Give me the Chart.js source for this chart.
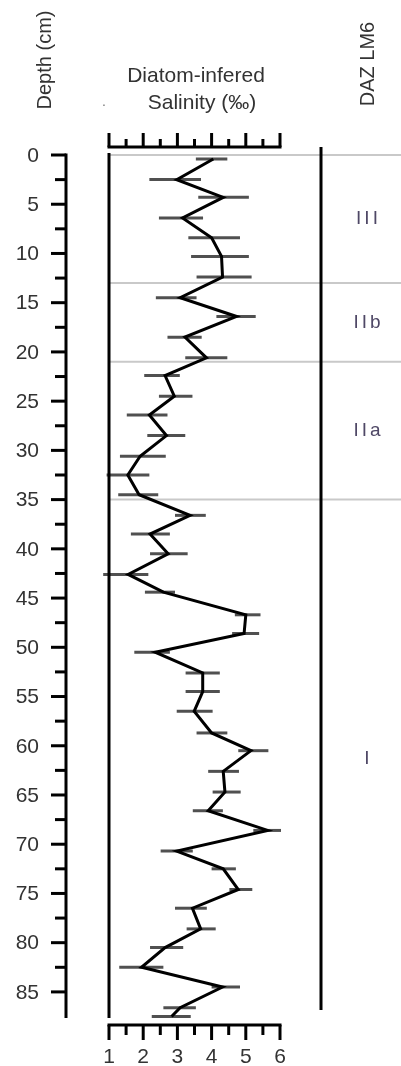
<!DOCTYPE html>
<html>
<head>
<meta charset="utf-8">
<script src="https://cdn.jsdelivr.net/npm/chart.js@4.4.1/dist/chart.umd.min.js"></script>
<style>
    html, body { margin: 0; padding: 0; background: #fff; }
    #wrap { position: relative; width: 401px; height: 1066px; }
</style>
</head>
<body>
<div id="wrap"><canvas id="chart"></canvas></div>
<script>
// sample depths (cm) and diatom-inferred salinity with error range
const depths   = [0.4, 2.5, 4.3, 6.4, 8.4, 10.3, 12.4, 14.5, 16.4, 18.5, 20.6, 22.4, 24.5, 26.4, 28.5, 30.6, 32.5, 34.5, 36.6, 38.5, 40.5, 42.6, 44.4, 46.7, 48.6, 50.5, 52.6, 54.5, 56.5, 58.7, 60.5, 62.6, 64.7, 66.6, 68.6, 70.7, 72.5, 74.6, 76.5, 78.6, 80.5, 82.5, 84.5, 86.6, 87.5];
const salinity = [4.05, 2.98, 4.34, 3.15, 4.0, 4.29, 4.32, 3.08, 4.73, 3.22, 3.85, 2.64, 2.91, 2.18, 2.68, 1.91, 1.55, 1.88, 3.37, 2.2, 2.73, 1.56, 2.59, 5.0, 4.95, 2.35, 3.74, 3.74, 3.49, 4.0, 5.15, 4.34, 4.39, 3.9, 5.64, 2.98, 4.34, 4.78, 3.44, 3.68, 2.64, 1.95, 4.32, 3.08, 2.83];
const errLow   = [3.54, 2.18, 3.61, 2.46, 3.32, 3.40, 3.56, 2.37, 4.14, 2.71, 3.23, 2.03, 2.46, 1.52, 2.12, 1.32, 0.93, 1.27, 2.93, 1.64, 2.20, 0.83, 2.05, 4.68, 4.60, 1.74, 3.24, 3.24, 2.98, 3.56, 4.78, 3.90, 4.03, 3.45, 5.22, 2.51, 4.0, 4.52, 2.93, 3.27, 2.20, 1.30, 4.0, 2.59, 2.25];
const errHigh  = [4.46, 3.69, 5.09, 3.75, 4.83, 5.09, 5.17, 3.56, 5.29, 3.71, 4.46, 3.07, 3.44, 2.71, 3.23, 2.66, 2.18, 2.44, 3.83, 2.78, 3.30, 2.15, 2.93, 5.43, 5.39, 2.78, 4.24, 4.24, 4.03, 4.46, 5.66, 4.80, 4.85, 4.33, 6.03, 3.45, 4.71, 5.19, 3.86, 4.12, 3.17, 2.59, 4.83, 3.54, 3.39];

const depthTicks    = [0, 5, 10, 15, 20, 25, 30, 35, 40, 45, 50, 55, 60, 65, 70, 75, 80, 85];
const salinityTicks = [1, 2, 3, 4, 5, 6];

// DAZ LM6 zones, top to bottom
const zoneNames   = ['III', 'IIb', 'IIa', 'I'];
const zoneBottoms = [13, 21, 35, 87.65];

const FONT = "'Liberation Sans', Arial, sans-serif";

function line(ctx, x1, y1, x2, y2) {
    ctx.beginPath();
    ctx.moveTo(x1, y1);
    ctx.lineTo(x2, y2);
    ctx.stroke();
}

const profilePlugin = {
    id: 'profile',
    beforeDatasetsDraw(chart) {
        const { ctx, chartArea: a, scales: { x, y } } = chart;
        ctx.save();
        // zone boundaries
        ctx.strokeStyle = '#c9c9c9';
        ctx.lineWidth = 2;
        [0].concat(zoneBottoms.slice(0, -1)).forEach(d => {
            const py = y.getPixelForValue(d);
            line(ctx, a.left, py, chart.width, py);
        });
        // error bars
        ctx.strokeStyle = '#505050';
        ctx.lineWidth = 3;
        depths.forEach((d, i) => {
            const py = y.getPixelForValue(d);
            line(ctx, x.getPixelForValue(errLow[i]), py, x.getPixelForValue(errHigh[i]), py);
        });
        ctx.restore();
    },
    afterDraw(chart) {
        const { ctx, chartArea: a, scales: { x, y } } = chart;
        ctx.save();
        ctx.strokeStyle = '#000';
        ctx.fillStyle = '#333';
        ctx.lineWidth = 3;
        ctx.lineCap = 'butt';

        // depth axis, set off to the left of the plot
        const ax = a.left - 43;
        const y0 = y.getPixelForValue(0);
        line(ctx, ax, y0 - 1.5, ax, a.bottom);
        ctx.font = '21px ' + FONT;
        ctx.textAlign = 'right';
        ctx.textBaseline = 'middle';
        depthTicks.forEach(d => {
            const py = y.getPixelForValue(d);
            line(ctx, ax - 15, py, ax, py);
            ctx.fillText(String(d), ax - 27, py + 1);
            if (d + 2.5 < y.max - 2) {
                const pm = y.getPixelForValue(d + 2.5);
                line(ctx, ax - 11, pm, ax, pm);
            }
        });

        // left edge of the salinity panel
        line(ctx, a.left, a.top - 2, a.left, a.bottom);

        // top and bottom salinity axes
        const xl = x.getPixelForValue(salinityTicks[0]);
        const xr = x.getPixelForValue(salinityTicks[salinityTicks.length - 1]);
        const topY = a.top - 8;
        const botY = a.bottom + 7;
        line(ctx, xl - 1.5, topY, xr + 1.5, topY);
        line(ctx, xl - 1.5, botY, xr + 1.5, botY);
        ctx.textAlign = 'center';
        salinityTicks.forEach((v, i) => {
            const px = x.getPixelForValue(v);
            line(ctx, px, topY, px, topY - 14);
            line(ctx, px, botY, px, botY + 15);
            ctx.fillText(String(v), px, botY + 32);
            if (i < salinityTicks.length - 1) {
                const pm = x.getPixelForValue(v + 0.5);
                line(ctx, pm, topY, pm, topY - 8);
                line(ctx, pm, botY, pm, botY + 10);
            }
        });

        // zone column
        const zx = 321;
        line(ctx, zx, topY, zx, a.bottom - 8);
        ctx.fillStyle = '#4f4866';
        ctx.font = '19px ' + FONT;
        ctx.letterSpacing = '3px';
        let top = 0;
        zoneNames.forEach((name, i) => {
            const mid = (top + zoneBottoms[i]) / 2;
            ctx.fillText(name, 368.5, y.getPixelForValue(mid));
            top = zoneBottoms[i];
        });
        ctx.letterSpacing = '0px';

        // titles
        ctx.fillStyle = '#333';
        ctx.font = '21px ' + FONT;
        ctx.fillText('Diatom-infered', 196, 76);
        ctx.fillText('Salinity (\u2030)', 202, 103);
        ctx.font = '14px ' + FONT;
        ctx.fillStyle = '#777';
        ctx.fillText('.', 104, 102);

        ctx.fillStyle = '#333';
        ctx.font = '20px ' + FONT;
        ctx.save();
        ctx.translate(45, 60);
        ctx.rotate(-Math.PI / 2);
        ctx.fillText('Depth (cm)', 0, 0);
        ctx.restore();
        ctx.save();
        ctx.translate(368, 64);
        ctx.rotate(-Math.PI / 2);
        ctx.fillText('DAZ LM6', 0, 0);
        ctx.restore();

        ctx.restore();
    }
};

new Chart(document.getElementById('chart'), {
    type: 'line',
    data: {
        datasets: [{
            data: depths.map((d, i) => ({ x: salinity[i], y: d })),
            borderColor: '#000',
            borderWidth: 3,
            pointRadius: 0,
            tension: 0,
            fill: false
        }]
    },
    options: {
        responsive: true,
        maintainAspectRatio: false,
        animation: false,
        layout: { padding: { left: 109, right: 121, top: 155, bottom: 48 } },
        scales: {
            x: { type: 'linear', min: 1, max: 6, display: false },
            y: { type: 'linear', min: 0, max: 87.65, reverse: true, display: false }
        },
        plugins: { legend: { display: false }, tooltip: { enabled: false } }
    },
    plugins: [profilePlugin]
});
</script>
</body>
</html>
